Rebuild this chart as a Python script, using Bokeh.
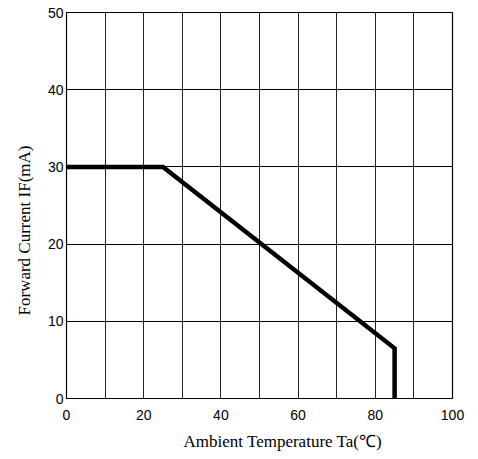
from bokeh.plotting import figure
from bokeh.models import FixedTicker, Title
from bokeh.embed import file_html
from bokeh.resources import INLINE

# Data: derating curve
temp_c = [0, 25, 85, 85]
current_ma = [30, 30, 6.5, 0]

x_tick_labels = [0, 20, 40, 60, 80, 100]
x_grid_lines = [0, 10, 20, 30, 40, 50, 60, 70, 80, 90, 100]
y_tick_labels = [0, 10, 20, 30, 40, 50]

x_title = "Ambient Temperature Ta(℃)"
y_title = "Forward Current IF(mA)"

p = figure(
    frame_width=386, frame_height=386,
    x_range=(0, 100), y_range=(0, 50),
    output_backend="svg", toolbar_location=None,
    min_border_left=66, min_border_right=20, min_border_top=12, min_border_bottom=55,
    background_fill_color="white", border_fill_color="white",
)
p.outline_line_color = "black"
p.outline_line_width = 1.2

p.line(temp_c, current_ma, line_color="black", line_width=4.5, line_join="miter")

for ax in (p.xaxis[0], p.yaxis[0]):
    ax.axis_line_color = None
    ax.major_tick_line_color = None
    ax.minor_tick_line_color = None
    ax.major_tick_out = 0
    ax.major_tick_in = 0
    ax.major_label_text_font = "Liberation Sans"
    ax.major_label_text_font_size = "14px"
    ax.major_label_text_color = "black"

p.xaxis.ticker = FixedTicker(ticks=x_tick_labels)
p.yaxis.ticker = FixedTicker(ticks=y_tick_labels)
p.xgrid.ticker = FixedTicker(ticks=x_grid_lines)
p.ygrid.ticker = FixedTicker(ticks=y_tick_labels)
p.xgrid.grid_line_color = "#222222"
p.ygrid.grid_line_color = "black"
p.xgrid.grid_line_width = 1
p.ygrid.grid_line_width = 1
p.xaxis.major_label_standoff = 11
p.yaxis.major_label_standoff = 3

p.add_layout(Title(text=x_title, align="left", offset=117, standoff=14,
                   text_font="Liberation Serif", text_font_size="17px",
                   text_font_style="normal", text_color="black"), "below")
p.add_layout(Title(text=y_title, align="left", offset=83, standoff=22,
                   text_font="Liberation Serif", text_font_size="17px",
                   text_font_style="normal", text_color="black"), "left")

open("out.html", "w").write(file_html(p, INLINE))
